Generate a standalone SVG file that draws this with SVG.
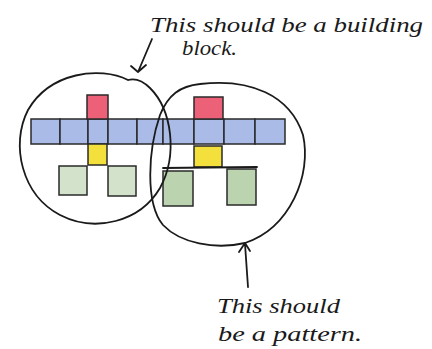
<svg xmlns="http://www.w3.org/2000/svg" width="432" height="349" viewBox="0 0 432 349">
<defs>
<style>
.ln{fill:none;stroke:#1a1a1a;stroke-width:1.8;stroke-linecap:round;stroke-linejoin:round}
.sq{stroke:#2a2a2a;stroke-width:1.5}
.r{fill:#ec6078}.b{fill:#abbbe8}.y{fill:#f3e03c}.g{fill:#d3e2cb}.g2{fill:#bcd3b0}
.t{font-family:"Liberation Serif","DejaVu Serif",serif;font-style:italic;font-size:20px;fill:#1a1a1a}
</style>
</defs>
<rect width="432" height="349" fill="#ffffff"/>
<g id="blocks">
<rect class="sq b" x="31" y="119" width="29" height="25"/>
<rect class="sq b" x="60" y="119" width="28" height="25"/>
<rect class="sq b" x="88" y="119" width="20" height="25"/>
<rect class="sq b" x="108" y="119" width="29" height="25"/>
<rect class="sq b" x="137" y="119" width="26" height="25"/>
<rect class="sq b" x="163" y="119" width="31" height="25"/>
<rect class="sq b" x="194" y="119" width="30" height="25"/>
<rect class="sq b" x="224" y="119" width="31" height="25"/>
<rect class="sq b" x="255" y="119" width="30" height="25"/>
<rect class="sq r" x="87" y="95" width="21" height="24"/>
<rect class="sq r" x="194" y="97" width="29" height="22"/>
<rect class="sq y" x="88" y="144" width="19" height="21"/>
<rect class="sq y" x="194" y="146" width="28" height="21"/>
<rect class="sq g" x="59" y="166" width="28" height="29"/>
<rect class="sq g" x="108" y="166" width="28" height="30"/>
<rect class="sq g2" x="163" y="171" width="30" height="35"/>
<rect class="sq g2" x="227" y="169" width="29" height="36"/>
<path class="ln" d="M163 168 L257 167"/>
</g>
<g id="building-block">
<path class="ln" d="M128 80 C100 66 50 72 28 110 C10 145 22 195 60 215 C95 233 140 222 160 188 C178 155 172 110 150 88 C142 80 135 78 128 80"/>
</g>
<g id="pattern">
<path class="ln" d="M200 84 C250 78 290 95 303 135 C312 175 290 228 245 243 C215 250 180 243 163 225 C145 203 148 150 160 115 C168 95 180 86 200 84"/>
</g>
<g id="connectors">
<path class="ln" d="M152 39 L138 72 M131 66 L138 72 L146 65"/>
<path class="ln" d="M248 287 L245 244 M239 252 L245 243 L250 251"/>
</g>
<g id="labels">
<text class="t" x="150" y="32" textLength="273" lengthAdjust="spacingAndGlyphs">This should be a building</text>
<text class="t" x="182" y="55" textLength="55" lengthAdjust="spacingAndGlyphs">block.</text>
<text class="t" x="217" y="313" textLength="123" lengthAdjust="spacingAndGlyphs">This should</text>
<text class="t" x="218" y="341" textLength="144" lengthAdjust="spacingAndGlyphs">be a pattern.</text>
</g>
</svg>
